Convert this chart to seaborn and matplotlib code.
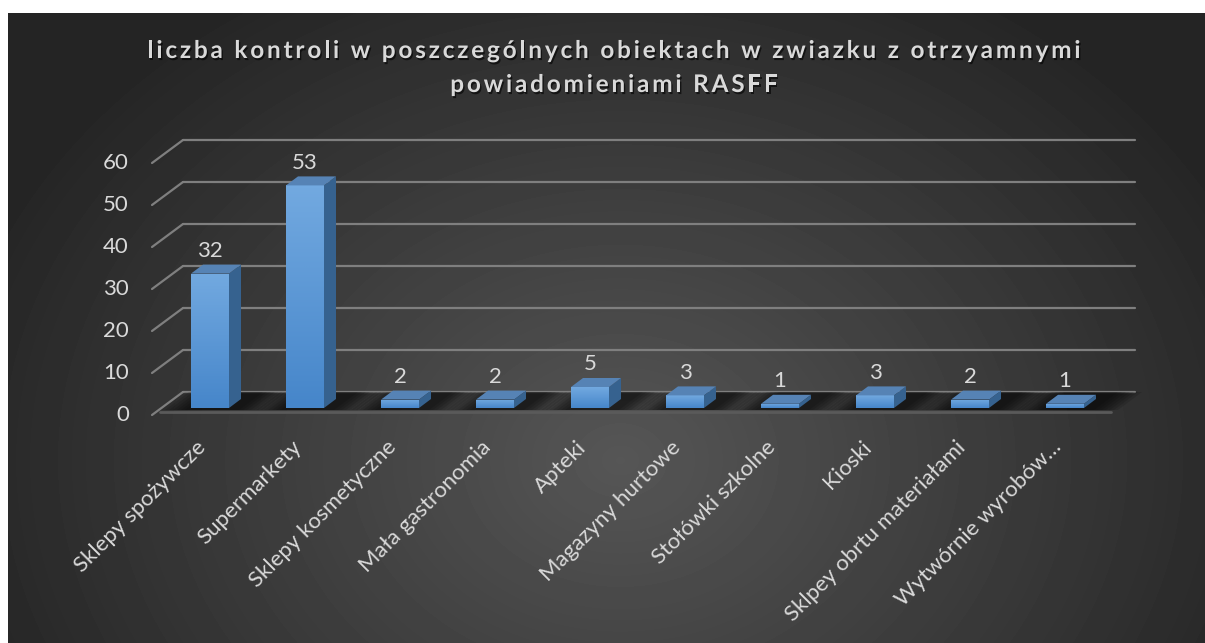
import numpy as np
import matplotlib
matplotlib.use("Agg")
import matplotlib.pyplot as plt
import matplotlib.patheffects as pe
from matplotlib.patches import Polygon
from matplotlib.colors import LinearSegmentedColormap
from matplotlib.transforms import offset_copy
from matplotlib import font_manager
from matplotlib.ft2font import FT2Font
import seaborn as sns


# DATA

categories = ["Sklepy spożywcze", "Supermarkety", "Sklepy kosmetyczne", "Mała gastronomia",
              "Apteki", "Magazyny hurtowe", "Stołówki szkolne", "Kioski",
              "Sklpey obrtu materiałami", "Wytwórnie wyrobów…"]
values = [32, 53, 2, 2, 5, 3, 1, 3, 2, 1]
yticks = [0, 10, 20, 30, 40, 50, 60]
title_lines = ["liczba kontroli w poszczególnych obiektach w zwiazku z otrzyamnymi",
               "powiadomieniami RASFF"]


# LAYOUT (pixels)

W, H, DPI = 1205, 643, 100
PX_X = 95.0   # pixels per category
PX_Y = 4.2    # pixels per value unit
TXT = "#d9d9d9"
GRID = "#7f7f7f"
FS = 16

sns.set_theme(style="white")
plt.rcParams["font.family"] = ["Lato", "DejaVu Sans"]

fig = plt.figure(figsize=(W / DPI, H / DPI), dpi=DPI, facecolor="white")

# dark background with radial gradient
bw, bh = W - 8, H - 13
bg = fig.add_axes([8 / W, 0, bw / W, bh / H])
yy, xx = np.mgrid[0:bh, 0:bw]
r = np.sqrt(((xx - 612) / 700.0) ** 2 + ((yy - 447) / 560.0) ** 2)
shade = 86 - 50 * np.clip(r, 0, 1)
bg.imshow(shade, cmap="gray", vmin=0, vmax=255, aspect="auto", interpolation="bilinear")
bg.axis("off")

# main axes: y=0 of the bar front plane at 408 px from top
ax_left, ax_right = 140, 1150
ax = fig.add_axes([ax_left / W, (H - 408) / H, (ax_right - ax_left) / W, 60 * PX_Y / H])
ax.set_facecolor("none")

sns.barplot(x=categories, y=values, color="#5b9bd5", saturation=1, width=0.4,
            ax=ax, zorder=5, linewidth=0)
ax.set_xlim((ax_left - 210) / PX_X, (ax_right - 210) / PX_X)
ax.set_ylim(0, 60)
sns.despine(ax=ax, left=True, bottom=True)
ax.grid(False)
ax.set_xlabel("")
ax.set_ylabel("")

# back wall gridlines and diagonal ticks
back = offset_copy(ax.transData, fig=fig, x=0, y=16, units="dots")
for v in yticks:
    ax.plot([(183 - 210) / PX_X, (1135 - 210) / PX_X], [v, v], transform=back,
            color=GRID, lw=1.6, clip_on=False, zorder=1)
    ax.plot([(152 - 210) / PX_X, (183 - 210) / PX_X], [v - 7 / PX_Y, v + 16 / PX_Y],
            color=GRID, lw=1.6, clip_on=False, zorder=1)
    ax.text((129 - 210) / PX_X, v - 7 / PX_Y, str(v), ha="right", va="center",
            color=TXT, fontsize=FS, clip_on=False)
ax.set_yticks([])

# floor front edge
yf, yb = -2 / PX_Y, 16 / PX_Y
ax.plot([(160 - 210) / PX_X, (1111 - 210) / PX_X], [yf - 1.5 / PX_Y] * 2,
        color="#5a5a5a", lw=2, clip_on=False, zorder=1.5)

# 3D bars: shadow, gradient front, top and side faces
front_cmap = LinearSegmentedColormap.from_list("front", ["#4686ca", "#72a9e0"])
dx, dy = 12 / PX_X, 9 / PX_Y
slant = 24 / PX_X
for p in ax.patches:
    x0, w, h = p.get_x(), p.get_width(), p.get_height()
    x1 = x0 + w
    for k in range(7):
        m = k * 4
        xl = x0 - (30 - m) / PX_X
        xr = x1 + (34 - m) / PX_X
        ax.add_patch(Polygon([(xl, yf), (xr, yf), (xr + slant, yb), (xl + slant, yb)],
                             fc="black", ec="none", alpha=0.12, zorder=2, clip_on=False))
    grad = np.linspace(0, 1, 64).reshape(-1, 1)
    im = ax.imshow(grad, cmap=front_cmap, extent=[x0, x1, 0, h], origin="lower",
                   aspect="auto", zorder=5.5, interpolation="bilinear")
    im.set_clip_path(p)
    ax.add_patch(Polygon([(x1, 0), (x1, h), (x1 + dx, h + dy), (x1 + dx, dy)],
                         fc="#36628f", ec="none", zorder=6, clip_on=False))
    ax.add_patch(Polygon([(x0, h), (x1, h), (x1 + dx, h + dy), (x0 + dx, h + dy)],
                         fc="#5683b5", ec="none", zorder=6, clip_on=False))
ax.set_xlim((ax_left - 210) / PX_X, (ax_right - 210) / PX_X)
ax.set_ylim(0, 60)

# data labels
ax.bar_label(ax.containers[0], padding=9, color=TXT, fontsize=FS)

# category labels
ax.set_xticks(range(len(categories)))
ax.set_xticklabels(categories, rotation=45, ha="right")
ax.tick_params(axis="x", length=0, pad=21, labelsize=FS, labelcolor=TXT)


# TITLE with letter spacing

prop = font_manager.FontProperties(family="Lato", weight="bold")
font = FT2Font(font_manager.findfont(prop))
title_size = 17.5
font.set_size(title_size, DPI)


def advances(s):
    return [font.load_char(ord(c)).linearHoriAdvance / 65536.0 for c in s]


adv1 = advances(title_lines[0])
gap = (933 - sum(adv1)) / (len(title_lines[0]) - 1)
for line, base in zip(title_lines, [58, 92]):
    adv = advances(line)
    total = sum(adv) + gap * (len(line) - 1)
    x = 614 - total / 2
    for c, a in zip(line, adv):
        if c != " ":
            fig.text((x + a / 2) / W, 1 - base / H, c, ha="center", va="baseline",
                     fontsize=title_size, fontweight="bold", color=TXT,
                     path_effects=[pe.withSimplePatchShadow(offset=(1, -1.5), shadow_rgbFace="black", alpha=0.6)])
        x += a + gap

fig.savefig("out.png", dpi=DPI, facecolor="white")
